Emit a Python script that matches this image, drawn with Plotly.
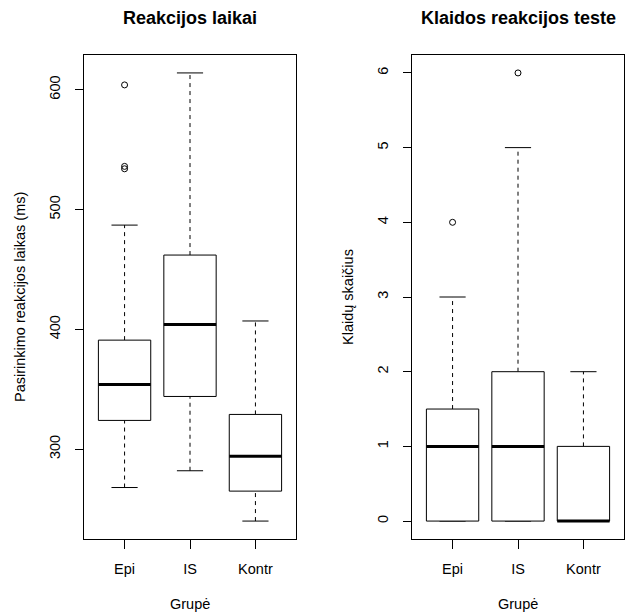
import plotly.graph_objects as go

# ---------------- data ----------------
categories = ["Epi", "IS", "Kontr"]

# Panel 1: reaction times (ms)
rt_low = [268, 282, 240]
rt_q1 = [324, 344, 265]
rt_median = [354, 404, 294]
rt_q3 = [391, 462, 329]
rt_high = [487, 614, 407]
rt_outliers = [[604, 536, 534], [], []]

# Panel 2: error counts
err_low = [0, 0, 0]
err_q1 = [0, 0, 0]
err_median = [1, 1, 0]
err_q3 = [1.5, 2, 1]
err_high = [3, 5, 2]
err_outliers = [[4], [6], []]

left_yticks = [300, 400, 500, 600]
right_yticks = [0, 1, 2, 3, 4, 5, 6]

W, H = 630, 615
FONT = "Arial, Liberation Sans, sans-serif"
BOXW = 0.4   # half box width
CAPW = 0.2   # half staple width


def px_x(p):
    return p / W


def px_y(p):
    return 1 - p / H


fig = go.Figure()


def add_panel(xa, ya, low, q1, med, q3, high, outl):
    bx, by, mx, my, wx, wy, cx, cy, ox, oy = [], [], [], [], [], [], [], [], [], []
    for i in range(len(categories)):
        c = i + 1
        bx += [c - BOXW, c + BOXW, c + BOXW, c - BOXW, c - BOXW, None]
        by += [q1[i], q1[i], q3[i], q3[i], q1[i], None]
        mx += [c - BOXW, c + BOXW, None]
        my += [med[i], med[i], None]
        wx += [c, c, None, c, c, None]
        wy += [q3[i], high[i], None, low[i], q1[i], None]
        cx += [c - CAPW, c + CAPW, None, c - CAPW, c + CAPW, None]
        cy += [high[i], high[i], None, low[i], low[i], None]
        for v in outl[i]:
            ox.append(c)
            oy.append(v)
    common = dict(xaxis=xa, yaxis=ya, showlegend=False, hoverinfo="skip", mode="lines")
    fig.add_trace(go.Scatter(x=wx, y=wy, line=dict(color="black", width=1, dash="4px,4px"), **common))
    fig.add_trace(go.Scatter(x=cx, y=cy, line=dict(color="black", width=1), **common))
    fig.add_trace(go.Scatter(x=bx, y=by, line=dict(color="black", width=1), fill="toself",
                             fillcolor="white", **common))
    fig.add_trace(go.Scatter(x=mx, y=my, line=dict(color="black", width=3), **common))
    fig.add_trace(go.Scatter(x=ox, y=oy, mode="markers", xaxis=xa, yaxis=ya, showlegend=False,
                             hoverinfo="skip",
                             marker=dict(symbol="circle-open", size=6, color="black",
                                         line=dict(width=1, color="black"))))


add_panel("x", "y", rt_low, rt_q1, rt_median, rt_q3, rt_high, rt_outliers)
add_panel("x2", "y2", err_low, err_q1, err_median, err_q3, err_high, err_outliers)


def yrange(low, high, outl):
    allv = list(low) + list(high) + [v for o in outl for v in o]
    lo, hi = min(allv), max(allv)
    d = (hi - lo) * 0.04
    return [lo - d, hi + d]


tickfont = dict(family=FONT, size=14.5, color="black")
xcommon = dict(range=[0.38, 3.62], tickvals=[1, 2, 3], ticktext=categories,
               showline=True, mirror=True, linecolor="black", linewidth=1,
               ticks="outside", ticklen=9, tickcolor="black", showgrid=False,
               zeroline=False, tickfont=tickfont, ticklabelstandoff=8)
ycommon = dict(showline=True, mirror=True, linecolor="black", linewidth=1,
               ticks="outside", ticklen=8, tickcolor="black", showgrid=False,
               zeroline=False, tickfont=tickfont, tickangle=-90, ticklabelstandoff=9)

ydom = [px_y(539), px_y(55)]
fig.update_layout(
    width=W, height=H,
    margin=dict(l=0, r=0, t=0, b=0),
    paper_bgcolor="white", plot_bgcolor="white",
    font=dict(family=FONT, color="black"),
    xaxis=dict(domain=[px_x(84), px_x(296)], anchor="y", **xcommon),
    yaxis=dict(domain=ydom, anchor="x", range=yrange(rt_low, rt_high, rt_outliers),
               tickvals=left_yticks, **ycommon),
    xaxis2=dict(domain=[px_x(412), px_x(624)], anchor="y2", **xcommon),
    yaxis2=dict(domain=ydom, anchor="x2", range=yrange(err_low, err_high, err_outliers),
                tickvals=right_yticks, **ycommon),
)

ann = [
    ("<b>Reakcijos laikai</b>", 190, 18, 18, 0),
    ("<b>Klaidos reakcijos teste</b>", 518, 18, 18, 0),
    ("Grupė", 190, 604, 14.5, 0),
    ("Grupė", 518, 604, 14.5, 0),
    ("Pasirinkimo reakcijos laikas (ms)", 20, 297, 14.5, -90),
    ("Klaidų skaičius", 348, 297, 14.5, -90),
]
for text, x, y, size, ang in ann:
    fig.add_annotation(text=text, x=px_x(x), y=px_y(y), xref="paper", yref="paper",
                       showarrow=False, xanchor="center", yanchor="middle", textangle=ang,
                       font=dict(family=FONT, size=size, color="black"))

fig.write_html("out.html", config={"displayModeBar": False},
               post_script="document.body.style.margin='0';document.body.style.overflow='hidden';")
